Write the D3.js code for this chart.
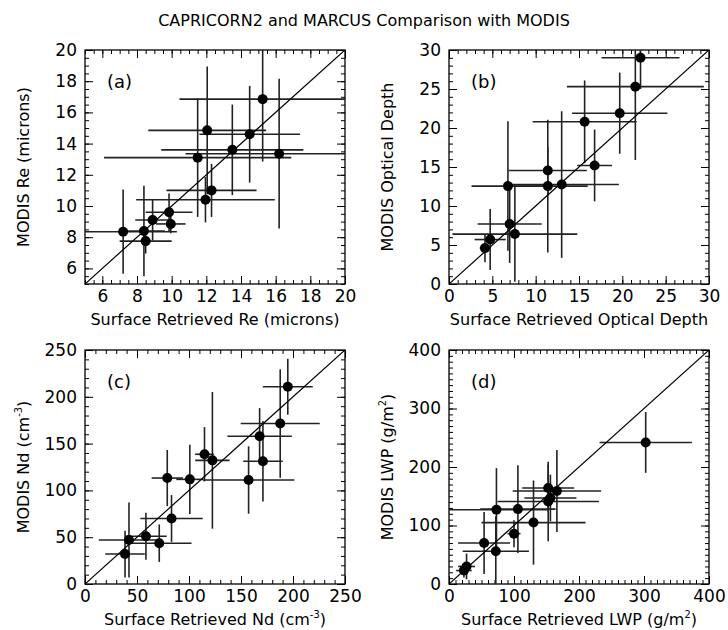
<!DOCTYPE html>
<html><head><meta charset="utf-8">
<script src="https://cdn.jsdelivr.net/npm/d3@7"></script>
<style>
body{margin:0;background:#fff}
text{font-family:"DejaVu Sans",sans-serif;fill:#000}
</style>
</head><body>
<svg id="chart" width="728" height="630"></svg>
<script>
// ---------- data ----------
// (a) effective radius, microns
const reX    = [7.2, 8.4, 8.5, 8.9, 9.85, 9.95, 11.95, 12.3, 11.5, 12.05, 13.5, 14.5, 15.25, 16.2];
const reY    = [8.35, 8.4, 7.75, 9.1, 9.6, 8.85, 10.4, 11.0, 13.1, 14.85, 13.6, 14.6, 16.85, 13.35];
const reXerr = [3.1, 1.2, 1.5, 1.0, 1.35, 0.85, 4.0, 2.6, 5.4, 3.4, 4.1, 2.9, 4.8, 5.4];
const reYerr = [2.7, 2.9, 0.8, 1.3, 1.2, 0.6, 1.45, 1.7, 3.8, 4.1, 2.9, 3.1, 4.0, 4.8];
const reTicks = [6, 8, 10, 12, 14, 16, 18, 20];

// (b) optical depth
const tauX    = [4.15, 4.75, 7.0, 7.6, 6.8, 11.4, 11.4, 13.0, 15.65, 16.8, 19.7, 21.5, 22.1];
const tauY    = [4.6, 5.7, 7.7, 6.4, 12.55, 12.55, 14.55, 12.75, 20.8, 15.2, 21.9, 25.3, 29.0];
const tauXerr = [0.6, 1.8, 3.7, 7.2, 4.2, 4.6, 4.5, 6.6, 6.0, 2.0, 5.5, 7.9, 4.5];
const tauYerr = [1.8, 3.9, 5.0, 6.1, 8.3, 8.5, 3.0, 9.4, 5.3, 4.6, 5.2, 9.4, 4.0];
const tauTicks = [0, 5, 10, 15, 20, 25, 30];

// (c) droplet number concentration, cm^-3
const ndX    = [38.5, 42.3, 58.6, 71.4, 83.2, 79.1, 100.8, 114.9, 122.5, 157.3, 171.1, 167.9, 187.7, 195];
const ndY    = [32, 47, 51, 43.6, 70, 113.2, 111.8, 138.6, 132.1, 111.1, 131.1, 157.9, 171.4, 210.7];
const ndXerr = [19, 29, 20, 31, 30, 15, 13, 9, 16.5, 44, 19, 31, 38, 24];
const ndYerr = [25, 40, 25, 20, 25, 30, 37, 29, 73, 36, 43, 30, 58, 30];
const ndTicks = [0, 50, 100, 150, 200, 250];

// (d) liquid water path, g/m^2
const lwpX    = [23, 27, 54, 72, 73, 100, 106, 130, 152.6, 156, 152.6, 166, 302.6];
const lwpY    = [23, 30, 70, 56, 127, 86, 128, 105, 141, 147, 164, 159, 242];
const lwpXerr = [12, 13, 40, 51, 78, 10, 58, 80, 78, 40, 40, 68, 71];
const lwpYerr = [12, 22, 53, 60, 71, 23, 75, 72, 68, 40, 40, 70, 52];
const lwpTicks = [0, 100, 200, 300, 400];

const titleText = "CAPRICORN2 and MARCUS Comparison with MODIS";

// ---------- layout ----------
const W = 260, H = 234;
const panels = [
  {lab:"(a)", xs:reX, ys:reY, xe:reXerr, ye:reYerr, dom:[5,20], ticks:reTicks, minor:0.5,
   x0:85, y0:50, xt:[["Surface Retrieved Re (microns)"]], yt:[["MODIS Re (microns)"]]},
  {lab:"(b)", xs:tauX, ys:tauY, xe:tauXerr, ye:tauYerr, dom:[0,30], ticks:tauTicks, minor:1,
   x0:449, y0:50, xt:[["Surface Retrieved Optical Depth"]], yt:[["MODIS Optical Depth"]]},
  {lab:"(c)", xs:ndX, ys:ndY, xe:ndXerr, ye:ndYerr, dom:[0,250], ticks:ndTicks, minor:10,
   x0:85, y0:350, xt:[["Surface Retrieved Nd (cm"],["-3",1],[")"]], yt:[["MODIS Nd (cm"],["-3",1],[")"]]},
  {lab:"(d)", xs:lwpX, ys:lwpY, xe:lwpXerr, ye:lwpYerr, dom:[0,400], ticks:lwpTicks, minor:10,
   x0:449, y0:350, xt:[["Surface Retrieved LWP (g/m"],["2",1],[")"]], yt:[["MODIS LWP (g/m"],["2",1],[")"]]}
];

const svg = d3.select("#chart");
svg.append("text").attr("x", 364).attr("y", 26).attr("text-anchor", "middle")
  .style("font-size", "16px").text(titleText);

function richText(t, parts, size) {
  parts.forEach(p => {
    const ts = t.append("tspan").text(p[0]);
    if (p[1]) ts.attr("dy", -7).style("font-size", (size * 0.62) + "px");
    else if (t.node().childNodes.length > 1) ts.attr("dy", 7);
  });
}

panels.forEach((p, i) => {
  const g = svg.append("g");
  const x = d3.scaleLinear().domain(p.dom).range([p.x0, p.x0 + W]);
  const y = d3.scaleLinear().domain(p.dom).range([p.y0 + H, p.y0]);
  const minorVals = d3.range(p.dom[0], p.dom[1] + 1e-9, p.minor);
  const noDomain = s => s.select(".domain").remove();

  // minor ticks on all four sides
  g.append("g").attr("transform", `translate(0,${p.y0 + H})`)
    .call(d3.axisBottom(x).tickValues(minorVals).tickSize(-4).tickFormat("")).call(noDomain);
  g.append("g").attr("transform", `translate(0,${p.y0})`)
    .call(d3.axisTop(x).tickValues(minorVals).tickSize(-4).tickFormat("")).call(noDomain);
  g.append("g").attr("transform", `translate(${p.x0},0)`)
    .call(d3.axisLeft(y).tickValues(minorVals).tickSize(-4).tickFormat("")).call(noDomain);
  g.append("g").attr("transform", `translate(${p.x0 + W},0)`)
    .call(d3.axisRight(y).tickValues(minorVals).tickSize(-4).tickFormat("")).call(noDomain);

  // major ticks with labels
  const fmt = d3.format("d");
  g.append("g").attr("transform", `translate(0,${p.y0 + H})`)
    .call(d3.axisBottom(x).tickValues(p.ticks).tickSize(-8).tickPadding(6).tickFormat(fmt))
    .call(noDomain).call(s => s.selectAll("text").style("font-size", "17px").attr("font-family", null));
  g.append("g").attr("transform", `translate(0,${p.y0})`)
    .call(d3.axisTop(x).tickValues(p.ticks).tickSize(-8).tickFormat("")).call(noDomain);
  g.append("g").attr("transform", `translate(${p.x0},0)`)
    .call(d3.axisLeft(y).tickValues(p.ticks).tickSize(-8).tickPadding(8).tickFormat(fmt))
    .call(noDomain).call(s => s.selectAll("text").style("font-size", "17px").attr("font-family", null));
  g.append("g").attr("transform", `translate(${p.x0 + W},0)`)
    .call(d3.axisRight(y).tickValues(p.ticks).tickSize(-8).tickFormat("")).call(noDomain);
  g.selectAll(".tick line").attr("stroke", "#000").attr("stroke-width", 1);

  // frame
  g.append("rect").attr("x", p.x0).attr("y", p.y0).attr("width", W).attr("height", H)
    .attr("fill", "none").attr("stroke", "#000").attr("stroke-width", 1.3);

  // clip
  const cid = "clip" + i;
  svg.append("clipPath").attr("id", cid).append("rect")
    .attr("x", p.x0).attr("y", p.y0).attr("width", W).attr("height", H);
  const plot = g.append("g").attr("clip-path", `url(#${cid})`);

  const idx = d3.range(p.xs.length);
  // error bars
  plot.selectAll("line.xe").data(idx).join("line").attr("class", "xe")
    .attr("x1", d => x(p.xs[d] - p.xe[d])).attr("x2", d => x(p.xs[d] + p.xe[d]))
    .attr("y1", d => y(p.ys[d])).attr("y2", d => y(p.ys[d]))
    .attr("stroke", "#222").attr("stroke-width", 1.6);
  plot.selectAll("line.ye").data(idx).join("line").attr("class", "ye")
    .attr("x1", d => x(p.xs[d])).attr("x2", d => x(p.xs[d]))
    .attr("y1", d => y(p.ys[d] - p.ye[d])).attr("y2", d => y(p.ys[d] + p.ye[d]))
    .attr("stroke", "#222").attr("stroke-width", 1.6);
  // 1:1 line
  plot.append("line").attr("x1", x(p.dom[0])).attr("y1", y(p.dom[0]))
    .attr("x2", x(p.dom[1])).attr("y2", y(p.dom[1]))
    .attr("stroke", "#000").attr("stroke-width", 1.2);
  // markers
  g.selectAll("circle").data(idx).join("circle")
    .attr("cx", d => x(p.xs[d])).attr("cy", d => y(p.ys[d])).attr("r", 5).attr("fill", "#000");

  // panel label
  g.append("text").attr("x", p.x0 + 22).attr("y", p.y0 + 38).style("font-size", "18px").text(p.lab);

  // axis titles
  const xt = g.append("text").attr("x", p.x0 + W / 2).attr("y", p.y0 + H + 41)
    .attr("text-anchor", "middle").style("font-size", "16px");
  richText(xt, p.xt, 16);
  const yt = g.append("text").attr("transform", `translate(${p.x0 - 56},${p.y0 + H / 2}) rotate(-90)`)
    .attr("text-anchor", "middle").style("font-size", "16px");
  richText(yt, p.yt, 16);
});
</script>
</body></html>
